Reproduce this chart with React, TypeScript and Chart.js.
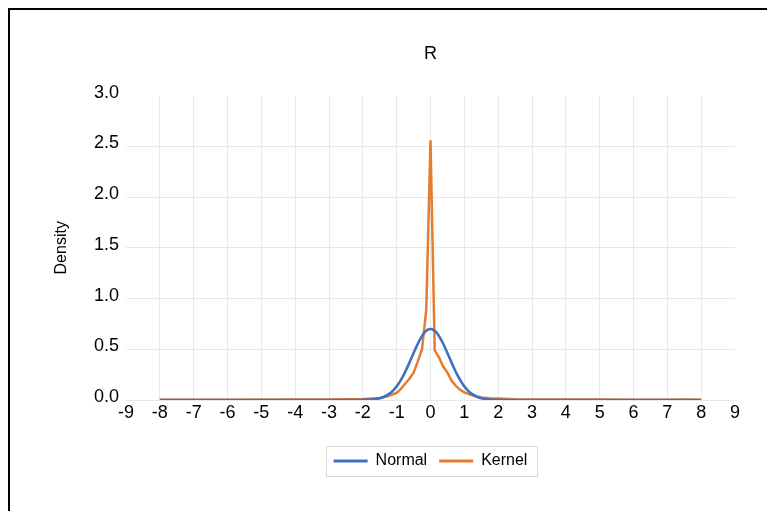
import React, { useEffect, useRef } from "react";
import { Chart, registerables } from "chart.js";

Chart.register(...registerables);

const chartTitle = "R";
const yAxisTitle = "Density";
const seriesNames = ["Normal", "Kernel"];

const normalX = [-8, -4, -3, -2.5, -2.2, -2, -1.8, -1.6, -1.4, -1.2, -1.1, -1, -0.9, -0.8, -0.7, -0.6, -0.5, -0.4, -0.3, -0.2, -0.1, 0, 0.1, 0.2, 0.3, 0.4, 0.5, 0.6, 0.7, 0.8, 0.9, 1, 1.1, 1.2, 1.4, 1.6, 1.8, 2, 2.2, 2.5, 3, 4, 8];
const normalY = [0, 0, 0, 0, 0.0002, 0.001, 0.003, 0.01, 0.027, 0.065, 0.095, 0.134, 0.184, 0.243, 0.311, 0.386, 0.463, 0.537, 0.603, 0.655, 0.688, 0.7, 0.688, 0.655, 0.603, 0.537, 0.463, 0.386, 0.311, 0.243, 0.184, 0.134, 0.095, 0.065, 0.027, 0.01, 0.003, 0.001, 0.0002, 0, 0, 0, 0];

const kernelX = [-8, -6, -4, -3.5, -3, -2.5, -2, -1.75, -1.5, -1.25, -1, -0.875, -0.75, -0.625, -0.5, -0.375, -0.25, -0.125, 0, 0.125, 0.25, 0.375, 0.5, 0.625, 0.75, 0.875, 1, 1.25, 1.5, 1.75, 2, 2.5, 3, 4, 5, 6, 7, 7.5, 8];
const kernelY = [0.002, 0.002, 0.004, 0.005, 0.006, 0.008, 0.01, 0.015, 0.02, 0.04, 0.07, 0.11, 0.16, 0.21, 0.27, 0.38, 0.5, 0.89, 2.56, 0.49, 0.42, 0.33, 0.27, 0.19, 0.14, 0.1, 0.075, 0.045, 0.025, 0.017, 0.014, 0.008, 0.006, 0.004, 0.004, 0.003, 0.003, 0.004, 0.002];

const xMin = -9;
const xMax = 9;
const yMin = 0;
const yMax = 3;

const FONT = "'Liberation Sans', Arial, sans-serif";

const legendBoxPlugin = {
  id: "legendBox",
  afterDraw(chart: any) {
    const lg = chart.legend;
    if (!lg || !lg.legendHitBoxes || !lg.legendHitBoxes.length) return;
    const hb = lg.legendHitBoxes;
    const first = hb[0];
    const last = hb[hb.length - 1];
    const left = first.left - 8;
    const right = last.left + last.width + 9;
    const cy = first.top + first.height / 2;
    const ctx = chart.ctx;
    ctx.save();
    ctx.strokeStyle = "#d9d9d9";
    ctx.lineWidth = 1;
    ctx.strokeRect(Math.round(left) + 0.5, Math.round(cy - 15) + 0.5, Math.round(right - left), 30);
    ctx.restore();
  },
};

export default function App() {
  const ref = useRef<HTMLCanvasElement>(null);

  useEffect(() => {
    if (!ref.current) return;
    const chart = new Chart(ref.current, {
      type: "scatter",
      data: {
        datasets: [
          {
            label: seriesNames[0],
            data: normalX.map((x, i) => ({ x, y: normalY[i] })),
            borderColor: "#4070C2",
            backgroundColor: "#4070C2",
            borderWidth: 2.6,
            showLine: true,
            pointRadius: 0,
            tension: 0.3,
          },
          {
            label: seriesNames[1],
            data: kernelX.map((x, i) => ({ x, y: kernelY[i] })),
            borderColor: "#E67C30",
            backgroundColor: "#E67C30",
            borderWidth: 2.5,
            showLine: true,
            pointRadius: 0,
            tension: 0,
          },
        ],
      },
      options: {
        animation: false,
        responsive: false,
        layout: { padding: { left: 0, right: 32, top: 0, bottom: 32 } },
        plugins: {
          tooltip: { enabled: false },
          title: {
            display: true,
            text: chartTitle,
            fullSize: false,
            color: "#000",
            font: { family: FONT, size: 18, weight: "normal" },
            padding: { top: 33, bottom: 31 },
          },
          legend: {
            display: true,
            position: "bottom",
            fullSize: false,
            labels: {
              boxWidth: 34,
              boxHeight: 3,
              padding: 12,
              color: "#1a1a1a",
              font: { family: FONT, size: 16 },
              generateLabels: (chart: any) =>
                chart.data.datasets.map((ds: any, i: number) => ({
                  text: ds.label,
                  fillStyle: ds.borderColor,
                  strokeStyle: ds.borderColor,
                  lineWidth: 0,
                  hidden: false,
                  datasetIndex: i,
                })),
            },
          },
        },
        scales: {
          x: {
            type: "linear",
            min: xMin,
            max: xMax,
            border: { display: false },
            grid: {
              drawTicks: false,
              color: (c: any) => (c.tick && (c.tick.value === xMin || c.tick.value === xMax) ? "rgba(0,0,0,0)" : "#e8e8e8"),
            },
            ticks: {
              stepSize: 1,
              padding: 2,
              color: "#000",
              font: { family: FONT, size: 18 },
              callback: (v: any) => String(v),
            },
            afterFit: (scale: any) => {
              scale.height = 41;
            },
          },
          y: {
            type: "linear",
            min: yMin,
            max: yMax,
            border: { display: false },
            grid: {
              drawTicks: false,
              color: (c: any) => (c.tick && c.tick.value === yMax ? "rgba(0,0,0,0)" : "#e8e8e8"),
            },
            title: {
              display: true,
              text: yAxisTitle,
              color: "#000",
              font: { family: FONT, size: 16 },
              padding: { top: 42, bottom: 0 },
            },
            ticks: {
              stepSize: 0.5,
              padding: 7,
              labelOffset: -3,
              color: "#000",
              font: { family: FONT, size: 18 },
              callback: (v: any) => Number(v).toFixed(1),
            },
            afterFit: (scale: any) => {
              scale.width = 116;
            },
          },
        },
      },
      plugins: [legendBoxPlugin],
    });
    return () => chart.destroy();
  }, []);

  return (
    <div style={{ position: "absolute", left: 8, top: 8, width: 759, height: 503, overflow: "hidden" }}>
      <div style={{ width: 800, height: 540, border: "2px solid #000", boxSizing: "border-box", position: "relative" }}>
        <canvas ref={ref} width={757} height={501} style={{ display: "block", width: 757, height: 501 }} />
      </div>
    </div>
  );
}
